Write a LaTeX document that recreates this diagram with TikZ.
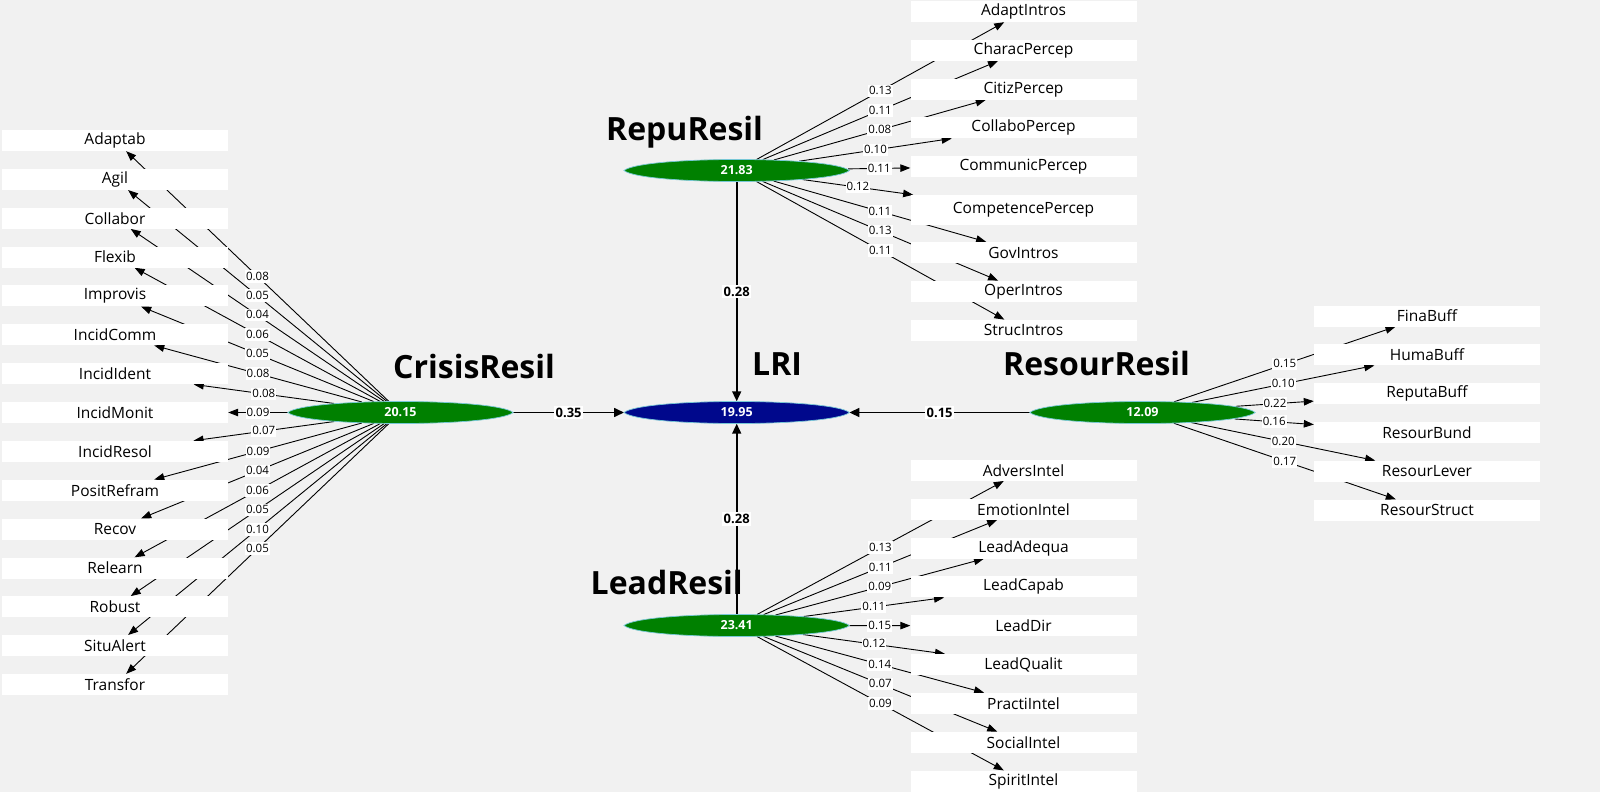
\documentclass[tikz,border=0pt]{standalone}
\usepackage{fontspec}
\setmainfont{Open Sans}
\usetikzlibrary{arrows.meta,calc,shapes.geometric}
\pgfdeclarelayer{back}
\pgfdeclarelayer{edges}
\pgfdeclarelayer{lens}
\pgfsetlayers{back,edges,lens,main}
\definecolor{bgc}{RGB}{241,241,241}
\definecolor{lvgreen}{RGB}{0,128,0}
\definecolor{lvblue}{RGB}{0,8,140}
\definecolor{lvedge}{RGB}{120,200,215}
\def\crisislist{Adaptab/140.5/0.08, Agil/179.4/0.05, Collabor/218.2/0.04, Flexib/257.1/0.06, Improvis/295.9/0.05, IncidComm/334.8/0.08, IncidIdent/373.7/0.08, IncidMonit/412.5/0.09, IncidResol/451.4/0.07, PositRefram/490.2/0.09, Recov/529.1/0.04, Relearn/568.0/0.06, Robust/606.8/0.05, SituAlert/645.7/0.10, Transfor/684.5/0.05}
\def\repulist{AdaptIntros/11.5/0.13/21, CharacPercep/50.3/0.11/21, CitizPercep/89.2/0.08/21, CollaboPercep/127.8/0.10/21, CommunicPercep/166.3/0.11/21, CompetencePercep/210/0.12/30, GovIntros/252.5/0.11/21, OperIntros/291.3/0.13/21, StrucIntros/330.3/0.11/21}
\def\leadlist{AdversIntel/470.3/0.13, EmotionIntel/509.2/0.11, LeadAdequa/548.0/0.09, LeadCapab/586.9/0.11, LeadDir/625.7/0.15, LeadQualit/664.6/0.12, PractiIntel/703.4/0.14, SocialIntel/742.3/0.07, SpiritIntel/781.1/0.09}
\def\resourlist{FinaBuff/316/0.15, HumaBuff/354.8/0.10, ReputaBuff/393.6/0.22, ResourBund/432.4/0.16, ResourLever/471.2/0.20, ResourStruct/510/0.17}
\begin{document}
\begin{tikzpicture}[x=1pt,y=-1pt,
  box/.style={rectangle, fill=white, minimum width=226pt, minimum height=21pt, inner sep=0pt, font=\fontsize{15.5}{18}\selectfont},
  lv/.style={ellipse, minimum width=225pt, minimum height=22pt, inner sep=0pt, text=white, font=\fontsize{12.5}{14}\selectfont\bfseries},
  ttl/.style={anchor=base west, inner sep=0pt, font=\fontsize{32}{36}\selectfont\bfseries},
  ld/.style={draw=black, line width=0.9pt, -{Triangle[length=10pt,width=7.5pt]}},
  st/.style={draw=black, line width=1.6pt, -{Triangle[length=10pt,width=9pt]}},
  wl/.style={fill=white, inner xsep=1pt, inner ysep=1.5pt, text height=8.5pt, text depth=1pt, font=\fontsize{11.5}{13}\selectfont},
  pl/.style={fill=white, inner xsep=1.5pt, inner ysep=2pt, text height=9.5pt, text depth=0pt, font=\fontsize{13}{15}\selectfont\bfseries},
]
\begin{pgfonlayer}{back}
\fill[bgc] (0,0) rectangle (1600,792);
\end{pgfonlayer}
\useasboundingbox (0,0) rectangle (1600,792);

% latent variables
\node[lv] (crisis) at (400.5,412.5) {20.15};
\node[lv] (lri) at (736.7,412.5) {19.95};
\node[lv] (repu) at (736.7,170.5) {21.83};
\node[lv] (lead) at (736.7,625.5) {23.41};
\node[lv] (resour) at (1142.5,412.5) {12.09};

\begin{pgfonlayer}{lens}
\foreach \n/\c in {crisis/lvgreen, repu/lvgreen, lead/lvgreen, resour/lvgreen, lri/lvblue}
  \filldraw[fill=\c, draw=lvedge, line width=0.7pt]
    (\n.west) .. controls ($(\n.west)+(18,-14.67)$) and ($(\n.east)+(-18,-14.67)$) .. (\n.east)
    .. controls ($(\n.east)+(-18,14.67)$) and ($(\n.west)+(18,14.67)$) .. (\n.west) -- cycle;
\end{pgfonlayer}

% titles
\node[ttl] (tcrisis) at (393,378) {CrisisResil};
\node[ttl] (tlri) at (752,375) {LRI};
\node[ttl] (trepu) at (606,140.5) {RepuResil};
\node[ttl] (tresour) at (1003,375.5) {ResourResil};
\node[ttl] (tlead) at (590.5,594) {LeadResil};

% indicator boxes
\foreach \t/\y/\w [count=\i] in \crisislist { \node[box] (c\i) at (115,\y) {\t}; }
\foreach \t/\y/\w/\h [count=\i] in \repulist { \node[box, minimum height=\h pt] (p\i) at (1023.5,\y) {\t}; }
\foreach \t/\y/\w [count=\i] in \leadlist { \node[box] (l\i) at (1023.5,\y) {\t}; }
\foreach \t/\y/\w [count=\i] in \resourlist { \node[box] (r\i) at (1427,\y) {\t}; }

\begin{pgfonlayer}{edges}
\foreach \t/\y/\w [count=\i] in \crisislist { \draw[ld] (crisis) -- (c\i); }
\foreach \t/\y/\w/\h [count=\i] in \repulist { \draw[ld] (repu) -- (p\i); }
\foreach \t/\y/\w [count=\i] in \leadlist { \draw[ld] (lead) -- (l\i); }
\foreach \t/\y/\w [count=\i] in \resourlist { \draw[ld] (resour) -- (r\i); }
\foreach \t/\y/\w [count=\i] in \crisislist { \path (crisis) -- (c\i) node[midway,wl] {\w}; }
\foreach \t/\y/\w/\h [count=\i] in \repulist { \path (repu) -- (p\i) node[midway,wl] {\w}; }
\foreach \t/\y/\w [count=\i] in \leadlist { \path (lead) -- (l\i) node[midway,wl] {\w}; }
\foreach \t/\y/\w [count=\i] in \resourlist { \path (resour) -- (r\i) node[midway,wl] {\w}; }
\draw[st] (repu) -- (lri) node[midway,pl] {0.28};
\draw[st] (lead) -- (lri) node[midway,pl] {0.28};
\draw[st] (crisis) -- (lri) node[midway,pl] {0.35};
\draw[st] (resour) -- (lri) node[midway,pl] {0.15};
\end{pgfonlayer}
\end{tikzpicture}
\end{document}
